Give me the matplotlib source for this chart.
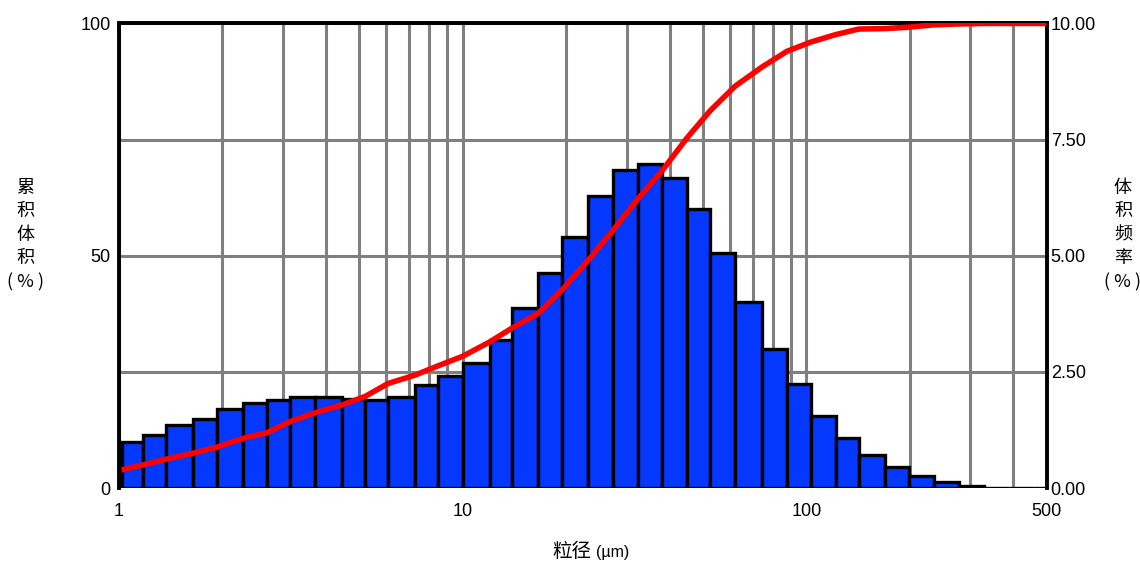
import numpy as np
import matplotlib
matplotlib.use("Agg")
import matplotlib.pyplot as plt
from matplotlib.ticker import FixedLocator, NullFormatter

# bin edges (um) and volume frequency (%)
bin_edges = [1.018, 1.175, 1.370, 1.642, 1.929, 2.296, 2.696, 3.146, 3.719, 4.457,
             5.200, 6.066, 7.269, 8.480, 10.03, 12.02, 13.90, 16.58, 19.43, 23.17,
             27.40, 32.39, 37.97, 44.89, 52.48, 62.05, 74.22, 87.76, 103.1, 121.7,
             142.0, 169.6, 198.5, 234.7, 277.5, 329.9, 389.0, 460.0, 540.0]
freq = [0.99, 1.15, 1.35, 1.49, 1.71, 1.84, 1.90, 1.96, 1.96, 1.91, 1.90, 1.95,
        2.22, 2.42, 2.70, 3.19, 3.87, 4.62, 5.41, 6.28, 6.84, 6.97, 6.68, 6.01,
        5.05, 4.01, 2.99, 2.23, 1.55, 1.07, 0.71, 0.45, 0.26, 0.12, 0.05, 0, 0, 0]

# cumulative volume (%)
cum_x = [1.018, 1.175, 1.370, 1.642, 1.929, 2.296, 2.696, 3.146, 3.719, 4.457,
         5.200, 6.066, 7.269, 8.480, 10.03, 12.02, 13.90, 16.58, 19.43, 23.17,
         27.40, 32.39, 37.97, 44.89, 52.48, 62.05, 74.22, 87.76, 103.1, 121.7,
         142.0, 169.6, 198.5, 234.7, 277.5, 329.9, 500.0]
cum_y = [3.9, 5.0, 6.2, 7.5, 8.8, 10.7, 11.9, 14.3, 16.2, 17.9,
         19.7, 22.5, 24.3, 26.3, 28.4, 31.5, 34.4, 37.6, 42.6, 49.0,
         55.5, 62.3, 68.2, 75.3, 81.2, 86.5, 90.6, 94.0, 96.0, 97.6,
         98.8, 98.9, 99.2, 99.7, 99.9, 100, 100]

x_ticks = [1, 10, 100, 500]
x_labels = ["1", "10", "100", "500"]
left_ticks = [0, 50, 100]
right_ticks = [0, 2.5, 5, 7.5, 10]
right_labels = ["0.00", "2.50", "5.00", "7.50", "10.00"]

num_font = "Liberation Sans"
cjk = ["Noto Sans CJK SC", "DejaVu Sans"]

fig = plt.figure(figsize=(11.4, 5.63), dpi=100)
ax = fig.add_axes([0.1044, 0.1332, 0.8136, 0.8251])
ax2 = ax.twinx()

# frequency bars on the base axes (ticks shown on the right)
left = np.array(bin_edges[:-1])
widths = np.diff(bin_edges)
ax.bar(left, freq, width=widths, align="edge", color="#0438FF",
       edgecolor="black", linewidth=2.4, zorder=2)
ax.set_xscale("log")
ax.set_xlim(1, 500)
ax.set_ylim(0, 10)
ax.set_xticks(x_ticks)
ax.set_xticklabels(x_labels, fontfamily=num_font, fontsize=13)
minor = [m * d for d in (1, 10, 100) for m in range(2, 10) if m * d < 500]
ax.xaxis.set_minor_locator(FixedLocator(minor))
ax.xaxis.set_minor_formatter(NullFormatter())
ax.set_yticks(right_ticks)
ax.set_yticklabels(right_labels, fontfamily=num_font, fontsize=13)
ax.yaxis.tick_right()
ax.set_axisbelow(True)
ax.grid(True, which="both", axis="x", color="#808080", linewidth=2.2)
ax.grid(True, which="major", axis="y", color="#808080", linewidth=2.2)
ax.tick_params(axis="both", which="both", length=0)
ax.tick_params(axis="x", pad=11)
ax.tick_params(axis="y", pad=3)

# cumulative curve on the twin axes (ticks on the left)
ax2.plot(cum_x, cum_y, color="#FF0000", linewidth=4, solid_capstyle="butt", zorder=3)
ax2.set_ylim(0, 100)
ax2.set_yticks(left_ticks)
ax2.set_yticklabels([str(t) for t in left_ticks], fontfamily=num_font, fontsize=13)
ax2.yaxis.tick_left()
ax2.tick_params(axis="y", length=0, pad=6)

for a in (ax, ax2):
    for side in ("top", "left", "right"):
        a.spines[side].set_linewidth(2.6)
        a.spines[side].set_color("black")
    a.spines["bottom"].set_visible(False)

# axis titles
fig.text(0.022, 0.5826, "累\n积\n体\n积\n( % )", family=cjk, fontsize=13,
         ha="center", va="center", multialignment="center", linespacing=1.4)
fig.text(0.985, 0.5826, "体\n积\n频\n率\n( % )", family=cjk, fontsize=13,
         ha="center", va="center", multialignment="center", linespacing=1.4)
fig.text(0.5185, 0.011, "粒径", family=cjk, fontsize=14, ha="right", va="baseline")
fig.text(0.5225, 0.011, "(µm)", family=num_font, fontsize=11.5, ha="left", va="baseline")

fig.savefig("out.png", dpi=100)
